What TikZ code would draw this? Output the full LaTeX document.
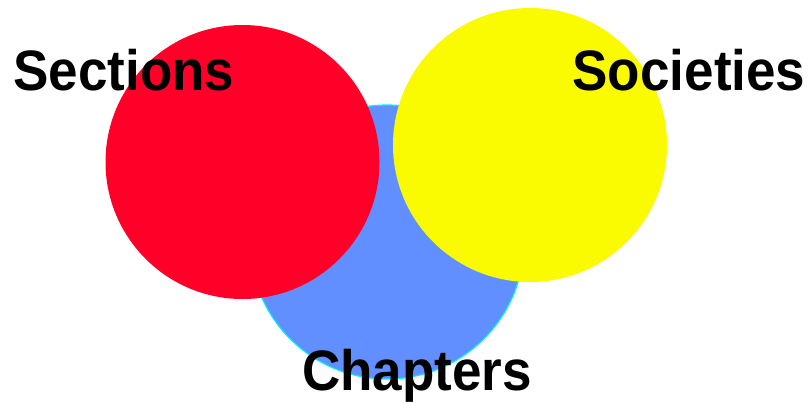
\documentclass[tikz,border=0pt]{standalone}
\usepackage{fontspec}
\setmainfont[FakeStretch=0.93]{Liberation Sans}
\definecolor{secred}{RGB}{255,0,40}
\definecolor{socyellow}{RGB}{250,250,0}
\definecolor{chapblue}{RGB}{98,143,255}
\definecolor{chapedge}{RGB}{0,240,255}
\tikzset{
  setlabel/.style={anchor=base, inner sep=0pt, font=\fontsize{57}{62}\selectfont\bfseries}
}
\begin{document}
\begin{tikzpicture}[x=1pt, y=-1pt]
    \useasboundingbox (0,0) rectangle (810,402);

    % 1. Chapters circle (behind)
    \fill[chapblue, draw=chapedge, line width=1.2pt] (387,242) circle (137);

    % 2. Sections and Societies circles
    \fill[secred] (242.5,162) circle (137);
    \fill[socyellow] (530,145) circle (137);

    % 3. Labels
    \node[setlabel] (sections) at (124,90) {Sections};
    \node[setlabel] (societies) at (689,90) {Societies};
    \node[setlabel] (chapters) at (417,390) {Chapters};
\end{tikzpicture}
\end{document}
